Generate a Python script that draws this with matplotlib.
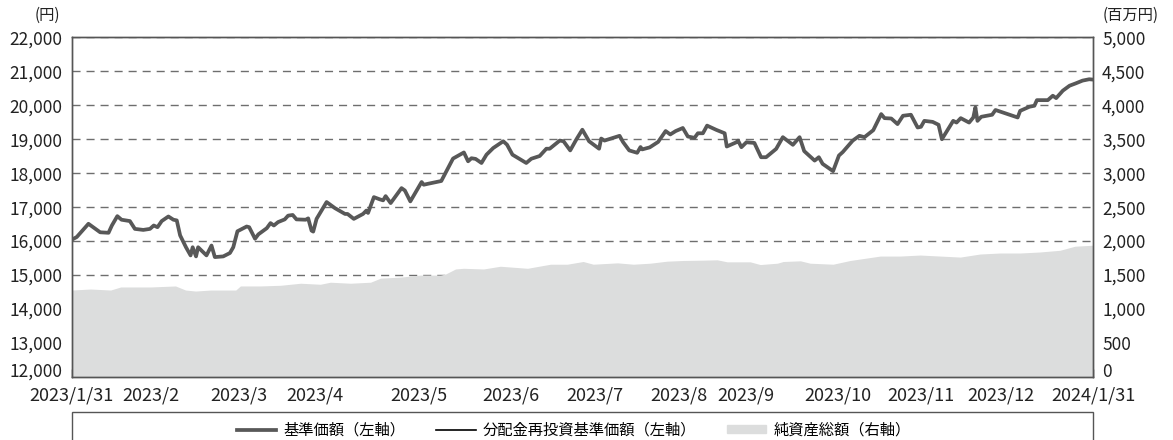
import matplotlib
matplotlib.use('Agg')
import matplotlib.pyplot as plt
from matplotlib.lines import Line2D
from matplotlib.patches import Patch, Rectangle
from matplotlib.ticker import FuncFormatter
from matplotlib.transforms import ScaledTranslation

# フォント
plt.rcParams['font.family'] = ['Noto Sans CJK JP', 'DejaVu Sans']

# 基準価額（営業日, 円）
nav_day = [0.0, 1.2, 4.0, 6.8, 8.8, 9.6, 10.9, 11.9, 13.9, 15.1, 17.1, 18.7, 19.6, 20.5,
           21.5, 23.1, 24.3, 25.1, 25.9, 27.3, 28.4, 28.9, 29.7, 30.2, 32.2, 33.4, 34.2,
           36.2, 37.8, 38.6, 39.6, 41.8, 42.4, 43.8, 44.6, 46.6, 47.5, 48.3, 49.3, 50.9,
           51.7, 52.8, 53.7, 55.9, 56.5, 57.3, 57.7, 58.5, 60.9, 62.9, 65.3, 65.9, 67.4,
           69.6, 70.4, 70.8, 72.2, 73.6, 74.4, 75.0, 76.2, 78.8, 79.6, 80.9, 83.6, 84.1,
           85.2, 88.3, 89.9, 91.1, 93.7, 94.7, 95.5, 96.5, 97.9, 99.1, 100.7, 103.1, 104.0,
           105.3, 108.6, 109.8, 111.8, 113.4, 114.2, 116.6, 117.5, 119.1, 120.6, 122.0,
           123.6, 126.0, 126.5, 127.3, 130.9, 131.7, 133.2, 135.1, 135.9, 136.3, 138.1,
           140.1, 141.9, 143.0, 144.3, 146.0, 147.2, 148.8, 149.6, 150.8, 151.8, 154.0,
           156.0, 156.5, 158.8, 159.2, 160.0, 161.2, 163.1, 164.7, 165.9, 168.3, 169.9,
           172.3, 173.9, 175.0, 177.5, 178.5, 179.4, 181.9, 183.3, 184.2, 186.6, 188.2,
           189.4, 191.5, 193.4, 194.2, 195.8, 197.3, 198.6, 200.5, 202.1, 202.9, 203.7,
           205.7, 207.1, 207.9, 210.6, 211.4, 212.4, 214.4, 215.4, 215.9, 216.4, 217.3,
           219.9, 220.7, 226.0, 226.6, 228.8, 230.0, 230.6, 233.2, 234.4, 235.2, 236.8,
           238.4, 239.9, 241.5, 243.1, 244.0]
nav = [16040, 16120, 16510, 16260, 16245, 16460, 16735, 16630, 16590, 16360, 16330, 16360,
       16460, 16410, 16590, 16725, 16630, 16610, 16170, 15820, 15580, 15820, 15550, 15820,
       15580, 15870, 15530, 15550, 15650, 15820, 16290, 16430, 16410, 16070, 16200, 16380,
       16530, 16460, 16560, 16640, 16750, 16770, 16640, 16630, 16670, 16310, 16280, 16655,
       17150, 16970, 16800, 16800, 16655, 16800, 16900, 16830, 17295, 17230, 17200, 17325,
       17120, 17560, 17490, 17170, 17740, 17660, 17690, 17770, 18150, 18430, 18610, 18350,
       18440, 18420, 18300, 18545, 18740, 18940, 18840, 18545, 18300, 18425, 18505, 18720,
       18720, 18960, 18940, 18670, 19000, 19280, 18940, 18720, 19020, 18960, 19100, 18920,
       18670, 18600, 18770, 18700, 18760, 18920, 19240, 19140, 19240, 19330, 19080, 19040,
       19175, 19175, 19400, 19275, 19175, 18785, 18910, 18960, 18765, 18910, 18890, 18470,
       18470, 18715, 19060, 18835, 19060, 18650, 18370, 18470, 18275, 18060, 18520, 18620,
       18960, 19100, 19060, 19265, 19740, 19620, 19610, 19445, 19690, 19720, 19345, 19365,
       19540, 19510, 19425, 19000, 19540, 19490, 19620, 19490, 19640, 19935, 19540, 19660,
       19720, 19860, 19640, 19835, 19955, 19985, 20150, 20150, 20280, 20210, 20430, 20575,
       20645, 20725, 20765, 20755]

# 純資産総額（百万円）
aum_day = [0.0, 4.5, 9.3, 11.7, 18.9, 24.8, 27.2, 29.6, 33.2, 39.2, 40.3, 45.1, 49.9, 54.7,
           59.4, 61.8, 66.6, 71.4, 73.8, 78.5, 83.3, 88.1, 89.3, 91.7, 93.6, 98.4, 102.4,
           108.9, 114.4, 118.4, 122.2, 124.6, 130.4, 134.2, 138.2, 142.3, 146.1, 150.9,
           154.2, 156.6, 162.1, 164.5, 168.6, 170.0, 174.1, 176.4, 181.9, 186.0, 193.2,
           197.9, 202.7, 207.5, 212.3, 217.0, 221.8, 226.6, 231.3, 236.1, 239.7, 244.0]
aum = [1280, 1295, 1280, 1325, 1325, 1340, 1280, 1265, 1280, 1280, 1340, 1340, 1350, 1380,
       1365, 1395, 1380, 1395, 1455, 1470, 1500, 1500, 1515, 1590, 1600, 1590, 1630, 1600,
       1660, 1660, 1700, 1660, 1680, 1660, 1675, 1705, 1715, 1720, 1725, 1695, 1695, 1655,
       1675, 1700, 1710, 1675, 1660, 1715, 1780, 1780, 1795, 1780, 1765, 1810, 1825, 1825,
       1840, 1865, 1925, 1940]

# 月末目盛り（営業日）
month_day = [0, 19, 40, 58, 83, 105, 125, 145, 161, 183, 203, 222, 244]
month_label = ['2023/1/31', '2023/2', '2023/3', '2023/4', '2023/5', '2023/6', '2023/7',
               '2023/8', '2023/9', '2023/10', '2023/11', '2023/12', '2024/1/31']

line_c = '#585858'
area_c = '#dcdddd'
edge_c = '#555555'

fig = plt.figure(figsize=(11.73, 4.40), dpi=100)
W, H = 1173, 440
x0, x1, y0, y1 = 71.7, 1093, 37.3, 377
ax2 = fig.add_axes([x0 / W, 1 - y1 / H, (x1 - x0) / W, (y1 - y0) / H])
ax = ax2.twinx()
ax.set_zorder(ax2.get_zorder() + 1)
ax.patch.set_visible(False)

# 右軸：純資産総額
ax2.fill_between(aum_day, aum, 0, color=area_c, lw=0, zorder=1)
ax2.set_ylim(0, 5000)
ax2.set_yticks(range(0, 5001, 500))
ax2.yaxis.tick_right()
ax2.yaxis.set_label_position('right')
ax2.set_axisbelow(True)
ax2.grid(axis='y', color='#6e6e6e', lw=1.0, linestyle=(0, (5.8, 4.3)))

# 左軸：基準価額
ax.plot(nav_day, nav, color='black', lw=1.2, zorder=2)
ax.plot(nav_day, nav, color=line_c, lw=2.7, zorder=3, solid_joinstyle='round')
ax.set_ylim(12000, 22000)
ax.set_yticks(range(12000, 22001, 1000))
ax.yaxis.tick_left()

ax.set_xlim(0, 244)
ax2.set_xticks(month_day)
ax2.set_xticklabels(month_label)
fmt = FuncFormatter(lambda v, p: '{:,.0f}'.format(v))
ax.yaxis.set_major_formatter(fmt)
ax2.yaxis.set_major_formatter(fmt)

for a in (ax, ax2):
    for s in a.spines.values():
        s.set_color(edge_c)
        s.set_linewidth(1.0)
ax.tick_params(axis='y', length=0, pad=6.5, labelsize=12.5, colors='#222222')
ax2.tick_params(axis='y', length=0, pad=6.5, labelsize=12.5, colors='#222222')
ax2.tick_params(axis='x', direction='in', length=5.5, width=1.0, color='#333333',
                pad=7, labelsize=13, labelcolor='#222222')

# 最下段の目盛りラベルを少し上へ
shift = ScaledTranslation(0, 5 / 72, fig.dpi_scale_trans)
for a in (ax, ax2):
    t = a.yaxis.get_major_ticks()[0]
    t.label1.set_transform(t.label1.get_transform() + shift)
    t.label2.set_transform(t.label2.get_transform() + shift)

fig.text(47 / W, 1 - 15 / H, '(円)', ha='center', va='center', fontsize=11, color='#222222')
fig.text(1103 / W, 1 - 15 / H, '(百万円)', ha='left', va='center', fontsize=11, color='#222222')

# 凡例
fig.add_artist(Rectangle((x0 / W, -0.05), (x1 - x0) / W, 0.05 + 1 - 412 / H,
                         transform=fig.transFigure, fill=False, ec=edge_c, lw=1.0))
handles = [Line2D([], [], color=line_c, lw=2.7),
           Line2D([], [], color='black', lw=1.2),
           Patch(color=area_c)]
labels = ['基準価額（左軸）', '分配金再投資基準価額（左軸）', '純資産総額（右軸）']
fig.legend(handles, labels, ncol=3, loc='center', bbox_to_anchor=(0.489, 1 - 430 / H),
           frameon=False, fontsize=11, handlelength=2.6, handleheight=0.5,
           handletextpad=0.45, columnspacing=2.0)

plt.savefig('out.png', dpi=100)
